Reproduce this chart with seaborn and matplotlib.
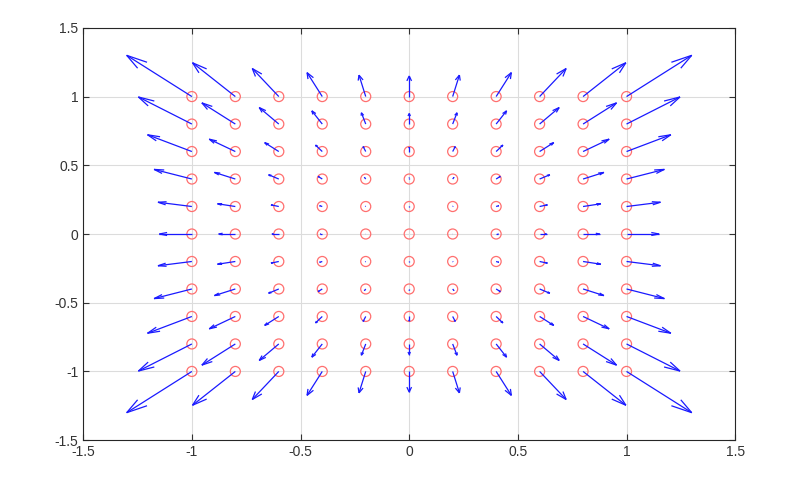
import numpy as np
import pandas as pd
import seaborn as sns
import matplotlib.pyplot as plt
from matplotlib.collections import LineCollection

# grid positions (x and y)
grid_x = [-1.0, -0.8, -0.6, -0.4, -0.2, 0.0, 0.2, 0.4, 0.6, 0.8, 1.0]
grid_y = [-1.0, -0.8, -0.6, -0.4, -0.2, 0.0, 0.2, 0.4, 0.6, 0.8, 1.0]

# arrow x-components, rows = y from -1 to 1, cols = x from -1 to 1
U = [
    [-0.300, -0.197, -0.122, -0.070, -0.031, 0, 0.031, 0.070, 0.122, 0.197, 0.300],
    [-0.246, -0.154, -0.090, -0.048, -0.020, 0, 0.020, 0.048, 0.090, 0.154, 0.246],
    [-0.204, -0.120, -0.065, -0.031, -0.012, 0, 0.012, 0.031, 0.065, 0.120, 0.204],
    [-0.174, -0.096, -0.047, -0.019, -0.006, 0, 0.006, 0.019, 0.047, 0.096, 0.174],
    [-0.156, -0.082, -0.036, -0.012, -0.002, 0, 0.002, 0.012, 0.036, 0.082, 0.156],
    [-0.150, -0.077, -0.032, -0.010, -0.001, 0, 0.001, 0.010, 0.032, 0.077, 0.150],
    [-0.156, -0.082, -0.036, -0.012, -0.002, 0, 0.002, 0.012, 0.036, 0.082, 0.156],
    [-0.174, -0.096, -0.047, -0.019, -0.006, 0, 0.006, 0.019, 0.047, 0.096, 0.174],
    [-0.204, -0.120, -0.065, -0.031, -0.012, 0, 0.012, 0.031, 0.065, 0.120, 0.204],
    [-0.246, -0.154, -0.090, -0.048, -0.020, 0, 0.020, 0.048, 0.090, 0.154, 0.246],
    [-0.300, -0.197, -0.122, -0.070, -0.031, 0, 0.031, 0.070, 0.122, 0.197, 0.300],
]

# arrow y-components, same layout
V = [
    [-0.300, -0.246, -0.204, -0.174, -0.156, -0.150, -0.156, -0.174, -0.204, -0.246, -0.300],
    [-0.197, -0.154, -0.120, -0.096, -0.082, -0.077, -0.082, -0.096, -0.120, -0.154, -0.197],
    [-0.122, -0.090, -0.065, -0.047, -0.036, -0.032, -0.036, -0.047, -0.065, -0.090, -0.122],
    [-0.070, -0.048, -0.031, -0.019, -0.012, -0.010, -0.012, -0.019, -0.031, -0.048, -0.070],
    [-0.031, -0.020, -0.012, -0.006, -0.002, -0.001, -0.002, -0.006, -0.012, -0.020, -0.031],
    [0, 0, 0, 0, 0, 0, 0, 0, 0, 0, 0],
    [0.031, 0.020, 0.012, 0.006, 0.002, 0.001, 0.002, 0.006, 0.012, 0.020, 0.031],
    [0.070, 0.048, 0.031, 0.019, 0.012, 0.010, 0.012, 0.019, 0.031, 0.048, 0.070],
    [0.122, 0.090, 0.065, 0.047, 0.036, 0.032, 0.036, 0.047, 0.065, 0.090, 0.122],
    [0.197, 0.154, 0.120, 0.096, 0.082, 0.077, 0.082, 0.096, 0.120, 0.154, 0.197],
    [0.300, 0.246, 0.204, 0.174, 0.156, 0.150, 0.156, 0.174, 0.204, 0.246, 0.300],
]

ticks = [-1.5, -1, -0.5, 0, 0.5, 1, 1.5]
tick_labels = ['-1.5', '-1', '-0.5', '0', '0.5', '1', '1.5']

sns.set_style('white')
plt.rcParams['font.family'] = ['Liberation Sans', 'DejaVu Sans']

gx, gy = np.meshgrid(grid_x, grid_y)
df = pd.DataFrame({'x': gx.ravel(), 'y': gy.ravel(),
                   'u': np.array(U).ravel(), 'v': np.array(V).ravel()})

fig = plt.figure(figsize=(8, 4.8), dpi=100)
ax = fig.add_axes([0.104, 0.083, 0.815, 0.859])

sns.scatterplot(data=df, x='x', y='y', ax=ax, marker='o', s=52,
                facecolors='none', edgecolor='#ff6f6f', linewidth=0.9, zorder=3)

# matlab-style quiver: shaft plus two barbs scaled with arrow length
alpha, beta = 0.24, 0.3
segs = []
for _, r in df.iterrows():
    tx, ty = r.x + r.u, r.y + r.v
    segs.append([(r.x, r.y), (tx, ty)])
    segs.append([(tx - alpha * (r.u + beta * r.v), ty - alpha * (r.v - beta * r.u)), (tx, ty)])
    segs.append([(tx - alpha * (r.u - beta * r.v), ty - alpha * (r.v + beta * r.u)), (tx, ty)])
ax.add_collection(LineCollection(segs, colors='#1a1aff', linewidths=0.9, zorder=4))

ax.set_xlim(-1.5, 1.5)
ax.set_ylim(-1.5, 1.5)
ax.set_xticks(ticks)
ax.set_xticklabels(tick_labels)
ax.set_yticks(ticks)
ax.set_yticklabels(tick_labels)
ax.set_xlabel('')
ax.set_ylabel('')
ax.grid(True, color='#dcdcdc', linewidth=0.8)
ax.set_axisbelow(True)
ax.tick_params(direction='in', length=4, labelsize=10, colors='#333333',
               top=True, right=True, bottom=True, left=True)
for sp in ax.spines.values():
    sp.set_color('#262626')
    sp.set_linewidth(0.8)

fig.savefig('out.png', dpi=100)
